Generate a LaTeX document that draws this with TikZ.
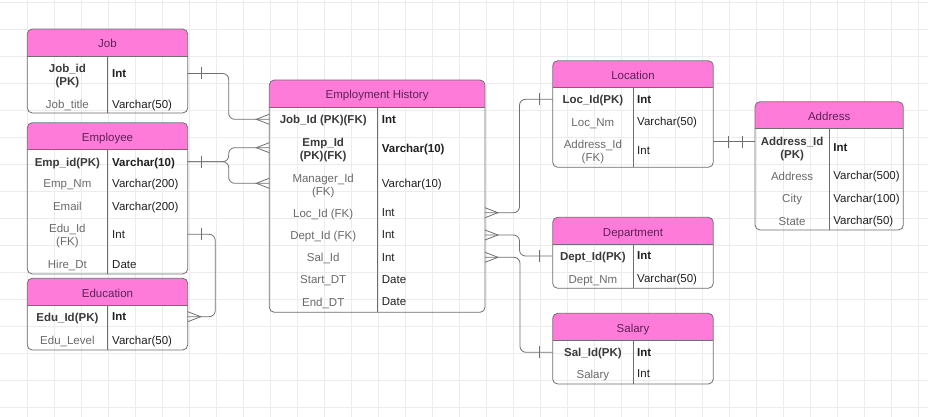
\documentclass[tikz,border=0pt]{standalone}
\usepackage{fontspec}
\setmainfont{Liberation Sans}
\usetikzlibrary{calc}

\definecolor{hdrpink}{HTML}{FF7BDA}
\definecolor{hdrink}{HTML}{5A2256}
\definecolor{boxgray}{HTML}{6E6E6E}
\definecolor{conngray}{HTML}{707070}
\definecolor{fieldgray}{HTML}{6A6A6A}
\definecolor{pkgray}{HTML}{3A3A3A}
\definecolor{typeink}{HTML}{1F1F1F}
\definecolor{gridgray}{HTML}{ECECEC}

\newcommand{\erfont}{\fontsize{11.5}{13.3}\selectfont}

% table: name, top left, width, height, title
\newcommand{\ertable}[5]{%
	\node[minimum width=#3, minimum height=#4, inner sep=0pt, outer sep=0pt, anchor=north west] (#1) at (#2) {};
	\begin{scope}
		\clip[rounded corners=5pt] (#1.south west) rectangle (#1.north east);
		\fill[hdrpink] (#1.north west) rectangle ([yshift=-27pt]#1.north east);
	\end{scope}
	\draw[tblline, rounded corners=5pt] (#1.south west) rectangle (#1.north east);
	\draw[tblline] ([yshift=-27pt]#1.north west) -- ([yshift=-27pt]#1.north east);
	\draw[tblline] ([yshift=-27pt]#1.north) -- (#1.south);
	\node[hdrtext] (#1-t) at ([yshift=-14.5pt]#1.north) {#5};
}

\tikzset{
	gridline/.style={draw=gridgray, line width=0.7pt},
	tblline/.style={draw=boxgray, line width=0.8pt},
	conn/.style={draw=conngray, line width=0.8pt, rounded corners=6pt},
	hdrtext/.style={inner sep=0pt, text=hdrink, font=\erfont, text height=11.5pt, text depth=2.5pt},
	fld/.style={inner sep=0pt, font=\erfont, text=fieldgray, text height=11.5pt, text depth=2.5pt},
	fld2/.style={inner sep=0pt, font=\erfont, text=fieldgray, align=center},
	pk/.style={font=\erfont\bfseries, text=pkgray},
	typ/.style={fld, anchor=west, text=typeink},
	pktyp/.style={typ, font=\erfont\bfseries},
	one/.pic={\draw[conn] (0,-6) -- (0,6);},
	many/.pic={\draw[conn, sharp corners] (0,-5) -- (-13,0) -- (0,5);},
}

\begin{document}
\begin{tikzpicture}[x=1pt, y=-1pt]
	\useasboundingbox (0,0) rectangle (928,417);
	\fill[white] (0,0) rectangle (928,417);
	\foreach \gx in {27,54,...,918} \draw[gridline] (\gx,0) -- (\gx,417);
	\foreach \gy in {2.5,29.5,...,407.5} \draw[gridline] (0,\gy) -- (928,\gy);

	\ertable{job}{27.3,29}{160.4pt}{84pt}{Job}
	\node[fld2, pk] (jobid) at (67.4,76) {Job\_id\\(PK)};
	\node[fld] (jobtitle) at (67.4,104) {Job\_title};
	\node[pktyp] (jobid-t) at (112,73.5) {Int};
	\node[typ] (jobtitle-t) at (112,104) {Varchar(50)};

	\ertable{employee}{27.3,122.7}{160.4pt}{151.3pt}{Employee}
	\node[fld, pk] (empid) at (67.4,161.7) {Emp\_id(PK)};
	\node[fld] (empnm) at (67.4,183.3) {Emp\_Nm};
	\node[fld] (email) at (67.4,206) {Email};
	\node[fld2] (eduid) at (67.4,235.7) {Edu\_Id\\(FK)};
	\node[fld] (hiredt) at (67.4,264) {Hire\_Dt};
	\node[pktyp] (empid-t) at (112,161.7) {Varchar(10)};
	\node[typ] (empnm-t) at (112,183.3) {Varchar(200)};
	\node[typ] (email-t) at (112,206) {Varchar(200)};
	\node[typ] (eduid-t) at (112,234.3) {Int};
	\node[typ] (hiredt-t) at (112,263.7) {Date};

	\ertable{education}{27.3,278.3}{160.4pt}{71.7pt}{Education}
	\node[fld, pk] (edupk) at (67.4,316.7) {Edu\_Id(PK)};
	\node[fld] (edulevel) at (67.4,340) {Edu\_Level};
	\node[pktyp] (edupk-t) at (112,316.2) {Int};
	\node[typ] (edulevel-t) at (112,339.7) {Varchar(50)};

	\ertable{eh}{269.3,80}{215.7pt}{232.3pt}{Employment History}
	\node[fld, pk] (ehjob) at (323.2,119.3) {Job\_Id (PK)(FK)};
	\node[fld2, pk] (ehemp) at (323.2,149.8) {Emp\_Id\\(PK)(FK)};
	\node[fld2] (ehmgr) at (323.2,185.8) {Manager\_Id\\(FK)};
	\node[fld] (ehloc) at (323.2,212.7) {Loc\_Id (FK)};
	\node[fld] (ehdept) at (323.2,235) {Dept\_Id (FK)};
	\node[fld] (ehsal) at (323.2,257.3) {Sal\_Id};
	\node[fld] (ehstart) at (323.2,279) {Start\_DT};
	\node[fld] (ehend) at (323.2,301.7) {End\_DT};
	\node[pktyp] (ehjob-t) at (381.7,118.8) {Int};
	\node[pktyp] (ehemp-t) at (381.7,147.7) {Varchar(10)};
	\node[typ] (ehmgr-t) at (381.7,183.3) {Varchar(10)};
	\node[typ] (ehloc-t) at (381.7,212) {Int};
	\node[typ] (ehdept-t) at (381.7,234.3) {Int};
	\node[typ] (ehsal-t) at (381.7,256.7) {Int};
	\node[typ] (ehstart-t) at (381.7,278.5) {Date};
	\node[typ] (ehend-t) at (381.7,301) {Date};

	\ertable{location}{552.7,60.7}{160.6pt}{106.6pt}{Location}
	\node[fld, pk] (locid) at (592.9,99.3) {Loc\_Id(PK)};
	\node[fld] (locnm) at (592.9,121.7) {Loc\_Nm};
	\node[fld2] (locaddr) at (592.9,152.2) {Address\_Id\\(FK)};
	\node[pktyp] (locid-t) at (637,98.8) {Int};
	\node[typ] (locnm-t) at (637,120.7) {Varchar(50)};
	\node[typ] (locaddr-t) at (637,150) {Int};

	\ertable{address}{755,101.7}{148.3pt}{128.3pt}{Address}
	\node[fld2, pk] (addrid) at (792.1,148.8) {Address\_Id\\(PK)};
	\node[fld] (addraddr) at (792.1,176) {Address};
	\node[fld] (addrcity) at (792.1,198.3) {City};
	\node[fld] (addrstate) at (792.1,220.7) {State};
	\node[pktyp] (addrid-t) at (833.2,146.7) {Int};
	\node[typ] (addraddr-t) at (833.2,175.3) {Varchar(500)};
	\node[typ] (addrcity-t) at (833.2,197.7) {Varchar(100)};
	\node[typ] (addrstate-t) at (833.2,219.5) {Varchar(50)};

	\ertable{department}{552.7,217.3}{160.6pt}{71pt}{Department}
	\node[fld, pk] (deptid) at (592.9,256) {Dept\_Id(PK)};
	\node[fld] (deptnm) at (592.9,279) {Dept\_Nm};
	\node[pktyp] (deptid-t) at (637,255.3) {Int};
	\node[typ] (deptnm-t) at (637,278) {Varchar(50)};

	\ertable{salary}{552.7,313.3}{160.6pt}{70.7pt}{Salary}
	\node[fld, pk] (salid) at (592.9,352.3) {Sal\_Id(PK)};
	\node[fld] (salamt) at (592.9,374.3) {Salary};
	\node[pktyp] (salid-t) at (637,351.7) {Int};
	\node[typ] (salamt-t) at (637,373.3) {Int};

	% relationships
	\draw[conn] (job.east |- jobid-t) -- ++(41,0) |- (eh.west |- ehjob);
	\draw[conn] (employee.east |- empid) -- ++(41,0) |- (eh.west |- ehemp-t);
	\draw[conn] (employee.east |- empid) -- ++(41,0) |- (eh.west |- ehmgr-t);
	\draw[conn] (employee.east |- eduid-t) -- ++(27.5,0) |- (education.east |- edupk);
	\draw[conn] (eh.east |- ehloc) -- ++(34.5,0) |- (location.west |- locid);
	\draw[conn] (eh.east |- ehdept) -- ++(34.5,0) |- (department.west |- deptid);
	\draw[conn] (eh.east |- ehsal) -- ++(35,0) |- (salary.west |- salid);
	\draw[conn] ([yshift=5pt]location.east |- addrid-t) -- ([yshift=5pt]address.west |- addrid-t);

	% one / many ends
	\pic at ([xshift=14pt]job.east |- jobid-t) {one};
	\pic at ([xshift=14pt]employee.east |- empid) {one};
	\pic at ([xshift=14pt]employee.east |- eduid-t) {one};
	\pic at ([xshift=-13.5pt]location.west |- locid) {one};
	\pic at ([xshift=-13.5pt]department.west |- deptid) {one};
	\pic at ([xshift=-13.5pt]salary.west |- salid) {one};
	\pic at ([xshift=-13pt,yshift=5pt]address.west |- addrid-t) {one};
	\pic at ([xshift=-27pt,yshift=5pt]address.west |- addrid-t) {one};
	\pic at (eh.west |- ehjob) {many};
	\pic at (eh.west |- ehemp-t) {many};
	\pic at (eh.west |- ehmgr-t) {many};
	\pic[rotate=180] at (eh.east |- ehloc) {many};
	\pic[rotate=180] at (eh.east |- ehdept) {many};
	\pic[rotate=180] at (eh.east |- ehsal) {many};
	\pic[rotate=180] at (education.east |- edupk) {many};
\end{tikzpicture}
\end{document}
